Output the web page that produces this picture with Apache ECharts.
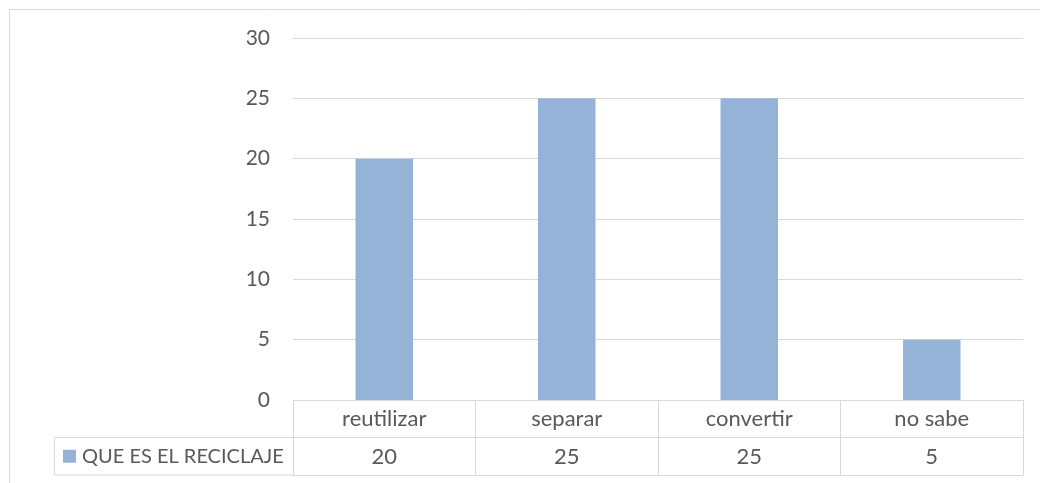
<!DOCTYPE html>
<html>
<head>
<meta charset="utf-8">
<script src="https://cdn.jsdelivr.net/npm/echarts@6/dist/echarts.min.js"></script>
<style>
  html, body { margin: 0; padding: 0; background: #fff; }
  #chart { width: 1040px; height: 483px; }
</style>
</head>
<body>
<div id="chart"></div>
<script>
// Survey results: "¿Qué es el reciclaje?"
const categories = ['reutilizar', 'separar', 'convertir', 'no sabe'];
const seriesName = 'QUE ES EL RECICLAJE';
const values = [20, 25, 25, 5];
const yTicks = { min: 0, max: 30, interval: 5 };

const TEXT = '#595959';
const LINE = '#D9D9D9';
const BAR = '#95B3D7';
const FONT = 'Lato, "Open Sans", sans-serif';

const chart = echarts.init(document.getElementById('chart'));

const gridLeft = 293, gridRight = 17, gridTop = 38, gridBottom = 83;
const rowH = 37.5;
const tableTop = 483 - gridBottom;

chart.setOption({
  animation: false,
  textStyle: { fontFamily: FONT },
  grid: { left: gridLeft, right: gridRight, top: gridTop, bottom: gridBottom, containLabel: false },
  legend: {
    data: [{ name: seriesName, icon: 'rect' }],
    left: 63, top: tableTop + rowH * 1.5 - 10, padding: 0,
    itemWidth: 13, itemHeight: 13, itemGap: 6,
    textStyle: { color: TEXT, fontSize: 20, lineHeight: 20, fontFamily: FONT, padding: [0, 0, 0, 1] },
    selectedMode: false
  },
  xAxis: [
    {
      // category row of the data table
      type: 'category',
      data: categories,
      position: 'bottom',
      axisLine: { show: true, lineStyle: { color: LINE, width: 1 } },
      axisTick: { show: true, length: rowH * 2, lineStyle: { color: LINE, width: 1 } },
      axisLabel: { color: TEXT, fontSize: 22, fontFamily: FONT, margin: 8 }
    },
    {
      // values row of the data table
      type: 'category',
      data: categories,
      position: 'bottom',
      offset: rowH,
      axisLine: { show: true, lineStyle: { color: LINE, width: 1 } },
      axisTick: { show: false },
      axisLabel: {
        color: TEXT, fontSize: 22, fontFamily: FONT, margin: 8,
        formatter: (v, i) => String(values[i])
      }
    },
    {
      // bottom border of the table
      type: 'category',
      data: categories,
      position: 'bottom',
      offset: rowH * 2,
      axisLine: { show: true, lineStyle: { color: LINE, width: 1 } },
      axisTick: { show: false },
      axisLabel: { show: false }
    }
  ],
  yAxis: {
    type: 'value',
    min: yTicks.min, max: yTicks.max, interval: yTicks.interval,
    axisLine: { show: false },
    axisTick: { show: false },
    axisLabel: { color: TEXT, fontSize: 21, fontFamily: FONT, margin: 23 },
    splitLine: { lineStyle: { color: LINE, width: 1 } }
  },
  series: [{
    name: seriesName,
    type: 'bar',
    data: values,
    xAxisIndex: 0,
    barWidth: '31.5%',
    itemStyle: { color: BAR },
    emphasis: { disabled: true }
  }],
  graphic: [
    // outer chart frame
    { type: 'rect', shape: { x: 9.5, y: 9.5, width: 1100, height: 600 },
      style: { fill: null, stroke: LINE, lineWidth: 1 }, silent: true },
    // legend cell of the data table
    { type: 'line', shape: { x1: 54.5, y1: tableTop + rowH, x2: gridLeft, y2: tableTop + rowH },
      style: { stroke: LINE, lineWidth: 1 }, silent: true },
    { type: 'line', shape: { x1: 54.5, y1: tableTop + rowH * 2, x2: gridLeft, y2: tableTop + rowH * 2 },
      style: { stroke: LINE, lineWidth: 1 }, silent: true },
    { type: 'line', shape: { x1: 54.5, y1: tableTop + rowH, x2: 54.5, y2: tableTop + rowH * 2 },
      style: { stroke: LINE, lineWidth: 1 }, silent: true }
  ]
});
</script>
</body>
</html>
